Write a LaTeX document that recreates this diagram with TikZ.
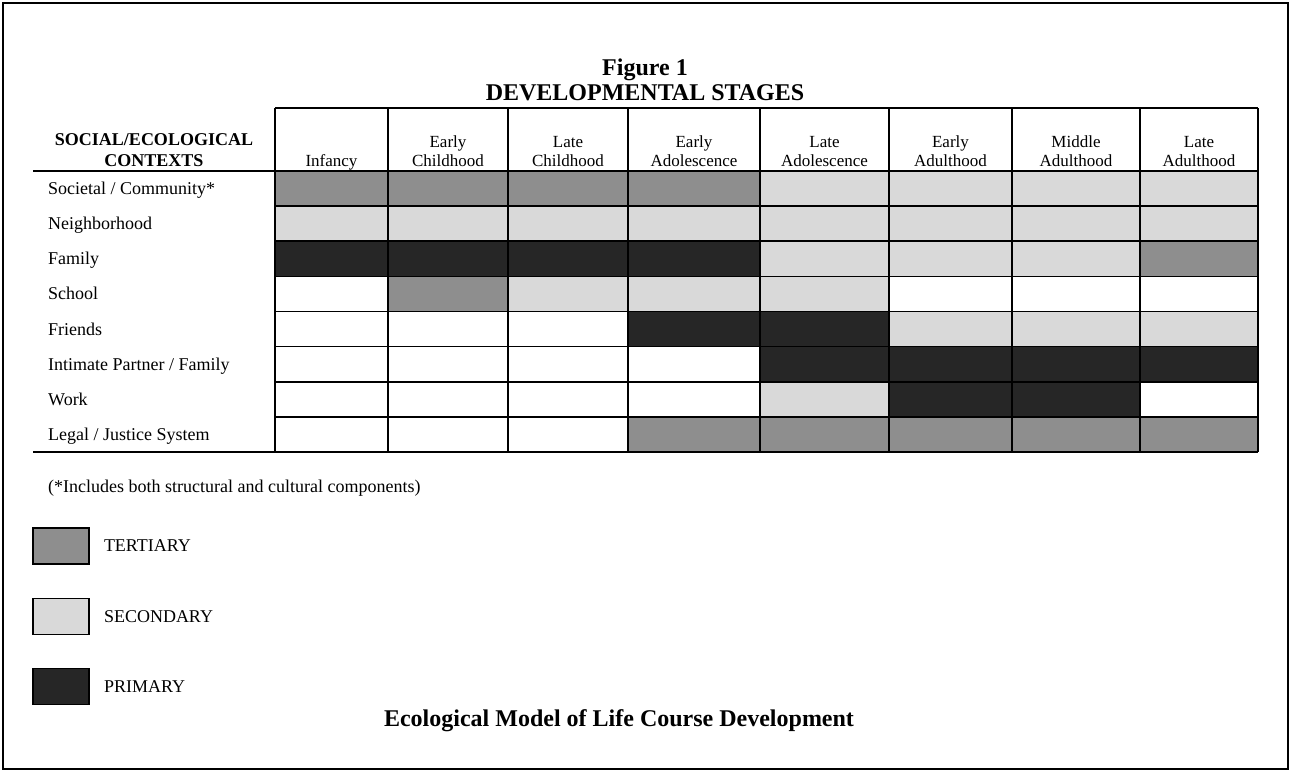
\documentclass[tikz,border=0pt]{standalone}
\usepackage{fontspec}
\setmainfont{Liberation Serif}
\usetikzlibrary{positioning}
\definecolor{ter}{HTML}{8E8E8E}
\definecolor{sec}{HTML}{D9D9D9}
\definecolor{pri}{HTML}{262626}
\definecolor{non}{HTML}{FFFFFF}
\tikzset{rule/.style={line width=1.6pt},
         rowlab/.style={anchor=base west, inner sep=0pt, font=\fontsize{18}{20}\selectfont},
         stagelab/.style={anchor=base, inner sep=0pt, font=\fontsize{17}{19}\selectfont},
         headlab/.style={anchor=base, inner sep=0pt, font=\bfseries\fontsize{18}{20}\selectfont},
         titlelab/.style={anchor=base, inner sep=0pt, font=\bfseries\fontsize{24}{26}\selectfont},
         legbox/.style={draw, line width=1.6pt, minimum width=56pt, minimum height=36pt, inner sep=0pt},
         leglab/.style={inner sep=0pt, font=\fontsize{18}{20}\selectfont}
}
\begin{document}
\begin{tikzpicture}[x=1pt,y=-1pt]
    \useasboundingbox (0,0) rectangle (1291,772);
    \draw[line width=2pt] (3,3) rectangle (1288,769);
        \node[titlelab] (fig) at (645,75) {Figure 1};
        \node[titlelab] (stages) at (645,100) {DEVELOPMENTAL STAGES};
    % cells: one row per context, one entry per stage
    \def\colx{{275,388,508,628,760,889,1012,1140,1258}}
    \foreach \row [count=\r from 0] in {{ter,ter,ter,ter,sec,sec,sec,sec},
                                        {sec,sec,sec,sec,sec,sec,sec,sec},
                                        {pri,pri,pri,pri,sec,sec,sec,ter},
                                        {non,ter,sec,sec,sec,non,non,non},
                                        {non,non,non,pri,pri,sec,sec,sec},
                                        {non,non,non,non,pri,pri,pri,pri},
                                        {non,non,non,non,sec,pri,pri,non},
                                        {non,non,non,ter,ter,ter,ter,ter}}
        \foreach \cell [count=\c from 0] in \row {
            \pgfmathsetmacro\xa{\colx[\c]}
            \pgfmathsetmacro\xb{\colx[\c+1]}
            \fill[\cell] (\xa,171+35.125*\r) rectangle (\xb,206.125+35.125*\r);
        }
    % grid
    \foreach \i in {0,...,8} {
        \pgfmathsetmacro\xx{\colx[\i]}
        \draw[rule] (\xx,108) -- (\xx,452);
    }
    \draw[rule] (275,108) -- (1258,108);
    \foreach \r in {1,...,7}
        \draw[rule] (275,171+35.125*\r) -- (1258,171+35.125*\r);
    \draw[rule] (33,171) -- (1258,171);
    \draw[rule] (33,452) -- (1258,452);
    % headers
        \node[headlab] (ctxa) at (154,145) {SOCIAL/ECOLOGICAL};
        \node[headlab] (ctxb) at (154,166) {CONTEXTS};
    \foreach \up/\low [count=\c from 0] in {/Infancy, Early/Childhood, Late/Childhood,
            Early/Adolescence, Late/Adolescence, Early/Adulthood, Middle/Adulthood, Late/Adulthood} {
        \pgfmathsetmacro\xa{\colx[\c]}
        \pgfmathsetmacro\xb{\colx[\c+1]}
        \node[stagelab] (up\c) at ({(\xa+\xb)/2},147) {\up};
        \node[stagelab] (low\c) at ({(\xa+\xb)/2},166) {\low};
    }
    \foreach \lab [count=\r from 0] in {{Societal / Community*}, Neighborhood, Family, School,
            Friends, {Intimate Partner / Family}, Work, {Legal / Justice System}}
        \node[rowlab] (ctx\r) at (48,194.5+35.125*\r) {\lab};
        \node[rowlab] (note) at (48,492) {(*Includes both structural and cultural components)};
    % legend
        \node[legbox, fill=ter] (kter) at (61,546) {};
        \node[leglab, right=14pt of kter] (lter) {TERTIARY};
        \node[legbox, fill=sec] (ksec) at (61,616.5) {};
        \node[leglab, right=14pt of ksec] (lsec) {SECONDARY};
        \node[legbox, fill=pri] (kpri) at (61,686.5) {};
        \node[leglab, right=14pt of kpri] (lpri) {PRIMARY};
        \node[titlelab] (caption) at (619,726) {Ecological Model of Life Course Development};
\end{tikzpicture}
\end{document}
